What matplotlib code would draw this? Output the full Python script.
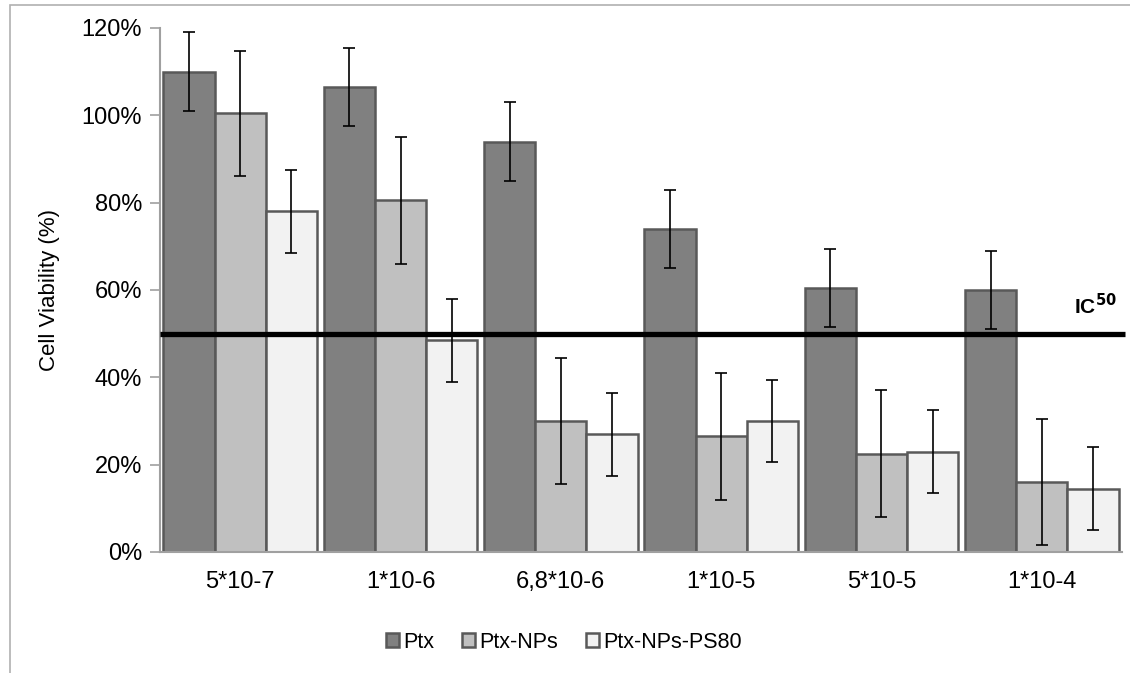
import numpy as np
import matplotlib
matplotlib.use('Agg')
import matplotlib.pyplot as plt
from matplotlib.patches import Rectangle

plt.rcParams['font.family'] = ['Liberation Sans', 'DejaVu Sans']

# concentrations
doses = ['5*10-7', '1*10-6', '6,8*10-6', '1*10-5', '5*10-5', '1*10-4']
series = ['Ptx', 'Ptx-NPs', 'Ptx-NPs-PS80']

ptx = [110, 106.5, 94, 74, 60.5, 60]
ptx_err = [9, 9, 9, 9, 9, 9]
nps = [100.5, 80.5, 30, 26.5, 22.5, 16]
nps_err = [14.3, 14.5, 14.5, 14.5, 14.5, 14.5]
ps80 = [78, 48.5, 27, 30, 23, 14.5]
ps80_err = [9.5, 9.5, 9.5, 9.5, 9.5, 9.5]

colors = ['#808080', '#c0c0c0', '#f2f2f2']
ic50 = 50

fig = plt.figure(figsize=(11.3, 6.73), dpi=100)
ax = fig.add_axes([160/1130, 1-552/673, (1122-160)/1130, (552-28)/673])

# outer light grey frame
fig.patches.append(Rectangle((10/1130, -0.1), 1.2, 1 - 5/673 + 0.1, transform=fig.transFigure,
                             fill=False, edgecolor='#b0b0b0', linewidth=1.2))

x = np.arange(len(doses))
w = 0.32
vals = [ptx, nps, ps80]
errs = [ptx_err, nps_err, ps80_err]
for i in range(3):
    v = np.array(vals[i]) / 100
    e = np.array(errs[i]) / 100
    ax.bar(x + (i - 1) * w, v, w, color=colors[i], edgecolor='#595959', linewidth=1.8,
           label=series[i], zorder=2)
    ax.errorbar(x + (i - 1) * w, v, yerr=e, fmt='none', ecolor='black', elinewidth=1.2,
                capsize=4, capthick=1.2, zorder=3)

ax.plot([-0.5, 5.52], [ic50/100, ic50/100], color='black', linewidth=3.8, zorder=4,
        clip_on=False, solid_capstyle='butt')
ax.text(5.47, 0.535, r'IC$^{\mathbf{50}}$', fontsize=15, fontweight='bold', ha='right',
        va='bottom')

ax.set_xlim(-0.5, 5.5)
ax.set_ylim(0, 1.2)
ax.set_yticks(np.arange(0, 1.21, 0.2))
ax.set_yticklabels(['%d%%' % t for t in range(0, 121, 20)], fontsize=17)
ax.set_xticks(x)
ax.set_xticklabels(doses, fontsize=17)
ax.tick_params(axis='x', length=0, pad=14)
ax.tick_params(axis='y', length=7, width=1.2, color='#a0a0a0', pad=6)
for s in ['top', 'right']:
    ax.spines[s].set_visible(False)
for s in ['left', 'bottom']:
    ax.spines[s].set_color('#a0a0a0')
    ax.spines[s].set_linewidth(1.5)

fig.text(50/1130, 1-290/673, 'Cell Viability (%)', rotation=90, fontsize=16,
         ha='center', va='center')

leg = ax.legend(loc='center', bbox_to_anchor=(564/1130, 1-642/673),
                bbox_transform=fig.transFigure, ncol=3, frameon=False, fontsize=15.5,
                handlelength=0.6, handleheight=0.6, handletextpad=0.2, columnspacing=1.3)

fig.savefig('out.png', dpi=100)
